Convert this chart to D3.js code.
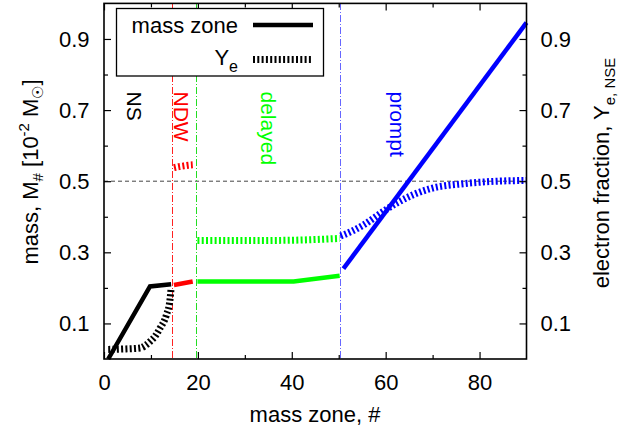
<!DOCTYPE html>
<html>
<head>
<meta charset="utf-8">
<script src="https://cdn.jsdelivr.net/npm/d3@7"></script>
<style>
  body { margin: 0; background: #fff; }
  svg { display: block; font-family: "Liberation Sans", Arial, sans-serif; }
</style>
</head>
<body>
<svg width="618" height="427"></svg>
<script>
// mass zone (solid lines)
var zoneNS = [0.9, 9.8, 14.3];
var massNS = [0, 0.204, 0.21];
var zoneNDW = [14.9, 18.9];
var massNDW = [0.208, 0.218];
var zoneDelayed = [19.9, 40.4, 50.2];
var massDelayed = [0.218, 0.218, 0.234];
var zonePrompt = [51, 90];
var massPrompt = [0.254, 0.946];

// electron fraction (dotted lines)
var yeZoneNS = [0.9, 4, 7.7, 9, 9.8, 11, 11.9, 13.3, 14.05, 14.3];
var yeNS = [0.027, 0.028, 0.031, 0.04, 0.049, 0.066, 0.086, 0.124, 0.166, 0.2];
var yeZoneNDW = [14.9, 16, 17, 18, 18.9];
var yeNDW = [0.538, 0.541, 0.543, 0.545, 0.546];
var yeZoneDelayed = [19.9, 30, 40, 45, 50.2];
var yeDelayed = [0.333, 0.333, 0.334, 0.336, 0.339];
var yeZonePrompt = [50.4, 51, 55.3, 59.5, 62.4, 65.9, 69.5, 76.6, 83.7, 90];
var yePrompt = [0.346, 0.349, 0.377, 0.415, 0.439, 0.462, 0.479, 0.493, 0.5, 0.502];

var boundaries = [14.4, 19.5, 50.3];
var regionNames = ['NS', 'NDW', 'delayed', 'prompt'];
var yeNSE = 0.5;

var xMajor = [0, 20, 40, 60, 80];
var xMinor = [10, 30, 50, 70];
var yMajor = [0.1, 0.3, 0.5, 0.7, 0.9];
var yMinor = [0.2, 0.4, 0.6, 0.8];

var colors = ['#000', '#f00', '#0f0', '#00f'];
var lineColors = ['#f22', '#2d2', '#66f'];

var svg = d3.select('svg');
var x = d3.scaleLinear().domain([0, 90]).range([104, 526.5]);
var y = d3.scaleLinear().domain([0, 1]).range([359, 3.4]);

function drawAxes() {
    var axes = [
        [d3.axisBottom, 'translate(0,' + y(0) + ')', x, xMajor, xMinor, d3.format('d'), 15.5],
        [d3.axisTop, 'translate(0,' + y(1) + ')', x, xMajor, xMinor, null, 0],
        [d3.axisLeft, 'translate(' + x(0) + ',0)', y, yMajor, yMinor, d3.format('.1f'), 14.5],
        [d3.axisRight, 'translate(' + x(90) + ',0)', y, yMajor, yMinor, d3.format('.1f'), 14]
    ];
    axes.forEach(a => {
        var major = svg.append('g').attr('transform', a[1])
            .call(a[0](a[2]).tickValues(a[3]).tickSize(-7).tickSizeOuter(0)
                .tickPadding(a[6]).tickFormat(a[5] || ''));
        svg.append('g').attr('transform', a[1])
            .call(a[0](a[2]).tickValues(a[4]).tickSize(-4).tickSizeOuter(0).tickFormat(''));
        major.selectAll('text')
            .attr('font-family', '"Liberation Sans", Arial, sans-serif')
            .attr('font-size', 22).attr('fill', '#000');
    });
    svg.selectAll('.domain').remove();
    svg.selectAll('.tick line').attr('stroke', '#000').attr('stroke-width', 1.2);
    svg.append('rect')
        .attr('x', x(0)).attr('y', y(1))
        .attr('width', x(90) - x(0)).attr('height', y(0) - y(1))
        .attr('fill', 'none').attr('stroke', '#000').attr('stroke-width', 1.6);
}

function drawGuides() {
    svg.append('line')
        .attr('x1', x(0)).attr('x2', x(90))
        .attr('y1', y(yeNSE)).attr('y2', y(yeNSE))
        .attr('stroke', '#444').attr('stroke-width', 1)
        .attr('stroke-dasharray', '4,3');
    svg.selectAll('.bound')
        .data(boundaries)
        .enter().append('line')
        .attr('x1', d => Math.round(x(d)) + 0.5).attr('x2', d => Math.round(x(d)) + 0.5)
        .attr('y1', y(1)).attr('y2', y(0))
        .attr('stroke', (d, i) => lineColors[i]).attr('stroke-width', 1)
        .attr('shape-rendering', 'crispEdges')
        .attr('stroke-dasharray', '7,2,1,2');
}

function drawLines() {
    var massSets = [[zoneNS, massNS], [zoneNDW, massNDW], [zoneDelayed, massDelayed], [zonePrompt, massPrompt]];
    var yeSets = [[yeZoneNS, yeNS], [yeZoneNDW, yeNDW], [yeZoneDelayed, yeDelayed], [yeZonePrompt, yePrompt]];
    var line = d3.line().x(d => x(d[0])).y(d => y(d[1]));
    var curve = d3.line().x(d => x(d[0])).y(d => y(d[1])).curve(d3.curveMonotoneX);

    svg.selectAll('.ye')
        .data(yeSets)
        .enter().append('path')
        .attr('d', d => curve(d3.zip(d[0], d[1])))
        .attr('fill', 'none')
        .attr('stroke', (d, i) => colors[i])
        .attr('stroke-width', 7)
        .attr('stroke-dasharray', '2,2.3');

    svg.selectAll('.mass')
        .data(massSets)
        .enter().append('path')
        .attr('d', d => line(d3.zip(d[0], d[1])))
        .attr('fill', 'none')
        .attr('stroke', (d, i) => colors[i])
        .attr('stroke-width', 4.5)
        .attr('stroke-linejoin', 'miter');
}

function drawTexts() {
    var labelAt = [4.9, 14.9, 33.5, 60.9];
    svg.selectAll('.region')
        .data(regionNames)
        .enter().append('text')
        .attr('transform', (d, i) => 'translate(' + x(labelAt[i]) + ',91.5) rotate(90)')
        .attr('font-size', 21)
        .attr('fill', (d, i) => colors[i])
        .text(d => d);

    svg.append('text')
        .attr('x', 315).attr('y', 422)
        .attr('text-anchor', 'middle').attr('font-size', 22)
        .text('mass zone, #');

    var left = svg.append('text')
        .attr('transform', 'translate(37.5,172) rotate(-90)')
        .attr('text-anchor', 'middle').attr('font-size', 22);
    left.append('tspan').text('mass, M');
    left.append('tspan').attr('font-size', 15).attr('dy', 5).text('#');
    left.append('tspan').attr('dy', -5).text(' [10');
    left.append('tspan').attr('font-size', 15).attr('dy', -9).text('-2');
    left.append('tspan').attr('dy', 9).text(' M');
    left.append('tspan').attr('font-size', 15).attr('dy', 5).text('\u2609');
    left.append('tspan').attr('dy', -5).text(']');

    var right = svg.append('text')
        .attr('transform', 'translate(609,173) rotate(-90)')
        .attr('text-anchor', 'middle').attr('font-size', 22);
    right.append('tspan').text('electron fraction, Y');
    right.append('tspan').attr('font-size', 15).attr('dy', 6).text('e, NSE');
}

function drawLegend() {
    svg.append('rect')
        .attr('x', 116.5).attr('y', 8.5).attr('width', 207).attr('height', 67.5)
        .attr('fill', '#fff').attr('stroke', '#000').attr('stroke-width', 1.3);
    svg.append('text')
        .attr('x', 238).attr('y', 32.5).attr('text-anchor', 'end').attr('font-size', 22)
        .text('mass zone');
    var ye = svg.append('text')
        .attr('x', 238).attr('y', 65).attr('text-anchor', 'end').attr('font-size', 22);
    ye.append('tspan').text('Y');
    ye.append('tspan').attr('font-size', 16).attr('dy', 6.5).text('e');
    svg.append('line')
        .attr('x1', 253).attr('x2', 313).attr('y1', 25).attr('y2', 25)
        .attr('stroke', '#000').attr('stroke-width', 4.5);
    svg.append('line')
        .attr('x1', 253).attr('x2', 313).attr('y1', 59.5).attr('y2', 59.5)
        .attr('stroke', '#000').attr('stroke-width', 7).attr('stroke-dasharray', '2,2.3');
}

drawGuides();
drawLines();
drawAxes();
drawTexts();
drawLegend();
</script>
</body>
</html>
